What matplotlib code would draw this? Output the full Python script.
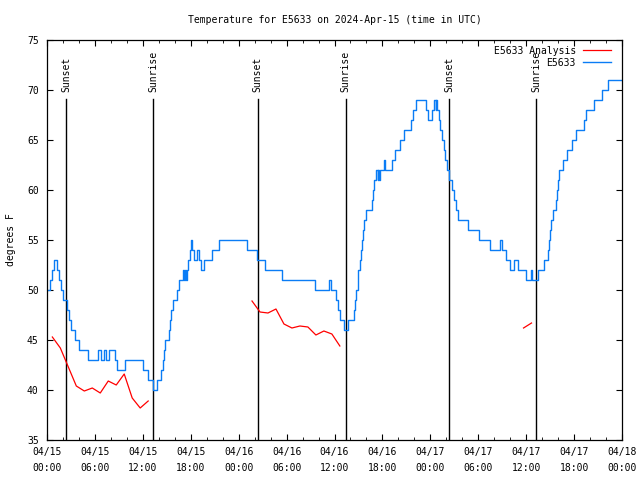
import matplotlib
matplotlib.use("Agg")
import matplotlib.pyplot as plt
import matplotlib.dates as mdates
import numpy as np
import pandas as pd

# Start of the plotted period (UTC); all times below are hours after it
start = pd.Timestamp("2024-04-15 00:00")

# Station E5633 observations: step start times (hours) and temperatures (F)
obs_hours = [
    0.0, 0.4, 0.6, 0.9, 1.3, 1.5, 1.7, 1.95, 2.5, 2.75, 3.0, 3.5, 4.0,
    5.1, 6.35, 6.75, 7.1, 7.4, 7.75, 8.5, 8.8, 9.8, 12.05, 12.6, 13.3, 13.8,
    14.3, 14.5, 14.65, 14.8, 15.25, 15.4, 15.55, 15.75, 16.25, 16.5, 17.0,
    17.2, 17.3, 17.45, 17.55, 17.7, 17.9, 18.05, 18.2, 18.45, 18.75, 19.0,
    19.3, 19.6, 20.6, 21.55, 25.1, 26.35, 27.3, 29.4, 33.55, 35.35, 35.55,
    36.15, 36.4, 36.7, 37.2, 37.7, 38.45, 38.6, 38.75, 38.9, 39.0, 39.15,
    39.3, 39.45, 39.6, 39.75, 39.9, 40.65, 40.8, 40.95, 41.15, 41.4, 41.5,
    41.62, 41.72, 42.15, 42.35, 43.15, 43.55, 44.2, 44.7, 45.6, 45.8, 46.25,
    47.45, 47.65, 48.15, 48.45, 48.65, 48.75, 48.85, 49.05, 49.25, 49.45,
    49.65, 49.85, 50.1, 50.4, 50.7, 50.95, 51.25, 51.5, 52.75, 54.05, 55.45,
    56.75, 56.95, 57.5, 58.0, 58.5, 59.0, 59.95, 60.55, 60.7, 61.5, 62.25,
    62.7, 62.85, 63.0, 63.15, 63.3, 63.7, 63.8, 63.95, 64.15, 64.55, 65.1,
    65.75, 66.2, 67.25, 67.5, 68.5, 69.5, 70.3, 72.0,
]
obs_temps = [
    50, 51, 52, 53, 52, 51, 50, 49, 48, 47, 46, 45, 44,
    43, 44, 43, 44, 43, 44, 43, 42, 43, 42, 41, 40, 41,
    42, 43, 44, 45, 46, 47, 48, 49, 50, 51, 52,
    51, 52, 51, 52, 53, 54, 55, 54, 53, 54, 53,
    52, 53, 54, 55, 54, 53, 52, 51, 50, 51, 50,
    49, 48, 47, 46, 47, 48, 49, 50, 51, 52, 53,
    54, 55, 56, 57, 58, 59, 60, 61, 62, 61, 62,
    61, 62, 63, 62, 63, 64, 65, 66, 67, 68, 69,
    68, 67, 68, 69, 68, 69, 68, 67, 66, 65,
    64, 63, 62, 61, 60, 59, 58, 57, 56, 55, 54,
    55, 54, 53, 52, 53, 52, 51, 52, 51, 52, 53,
    54, 55, 56, 57, 58, 59, 60, 61, 62, 63, 64,
    65, 66, 67, 68, 69, 70, 71, 71,
]

# Hourly analysis values (NaN = gap in the analysis)
ana_hours = [
    0.67, 1.67, 2.67, 3.67, 4.67, 5.67, 6.67, 7.67, 8.67, 9.67, 10.67, 11.67, 12.67,
    13.67,
    25.67, 26.67, 27.67, 28.67, 29.67, 30.67, 31.67, 32.67, 33.67, 34.67, 35.67, 36.67,
    37.67,
    59.67, 60.67,
]
ana_temps = [
    45.3, 44.2, 42.3, 40.4, 39.9, 40.2, 39.7, 40.9, 40.5, 41.6, 39.2, 38.2, 38.9,
    np.nan,
    48.9, 47.8, 47.7, 48.1, 46.6, 46.2, 46.4, 46.3, 45.5, 45.9, 45.6, 44.4,
    np.nan,
    46.2, 46.7,
]

# Sunset / sunrise markers (hours after start)
sun_hours = [2.40, 13.30, 26.38, 37.40, 50.38, 61.25]
sun_labels = ["Sunset", "Sunrise", "Sunset", "Sunrise", "Sunset", "Sunrise"]

# labelled x ticks every 6 hours
tick_hours = list(range(0, 73, 6))


def to_time(hours):
    return start + pd.to_timedelta(np.asarray(hours, dtype=float), unit="h")


plt.rcParams['font.family'] = ['DejaVu Sans Mono']
plt.rcParams['font.size'] = 7

fig = plt.figure(figsize=(6.4, 4.8), dpi=100)
ax = fig.add_axes([47 / 640, 40 / 480, 575 / 640, 400 / 480])

# sunrise / sunset lines with their labels
for h, lab in zip(sun_hours, sun_labels):
    t = to_time([h])[0]
    ax.plot([t, t], [35, 69.1], color='black', linewidth=1.0)
    ax.text(t, 69.8, lab, rotation=90, ha='center', va='bottom', fontsize=7)

ax.plot(to_time(ana_hours), ana_temps, color='#ff0000', linewidth=0.9,
        label='E5633 Analysis')
ax.plot(to_time(obs_hours), obs_temps, color='#0a7cf5', linewidth=1.0,
        drawstyle='steps-post', label='E5633')

ax.set_xlim(start, start + pd.Timedelta(hours=72))
ax.set_ylim(35, 75)
ax.set_yticks(np.arange(35, 76, 5))

ticks = to_time(tick_hours)
ax.set_xticks(ticks)
xlabels = ax.set_xticklabels([t.strftime('%m/%d\n%H:%M') for t in ticks])
for lab in xlabels:
    lab.set_linespacing(1.8)
ax.xaxis.set_minor_locator(mdates.HourLocator(byhour=range(0, 24, 2)))

ax.tick_params(which='both', direction='in', top=True, right=True)
ax.tick_params(which='major', length=4, pad=5, labelsize=7)
ax.tick_params(which='minor', length=2.5)
ax.tick_params(axis='y', pad=6)
for s in ax.spines.values():
    s.set_linewidth(0.9)

ax.set_title('Temperature for E5633 on 2024-Apr-15 (time in UTC)', fontsize=7, pad=12)
ax.set_ylabel('degrees F', fontsize=7, labelpad=8)

ax.legend(loc='upper right', bbox_to_anchor=(0.991, 1.0), frameon=False,
          markerfirst=False, handlelength=2.9, labelspacing=0.2,
          borderaxespad=0.2, handletextpad=0.7, fontsize=7)

fig.savefig('out.png', dpi=100)
